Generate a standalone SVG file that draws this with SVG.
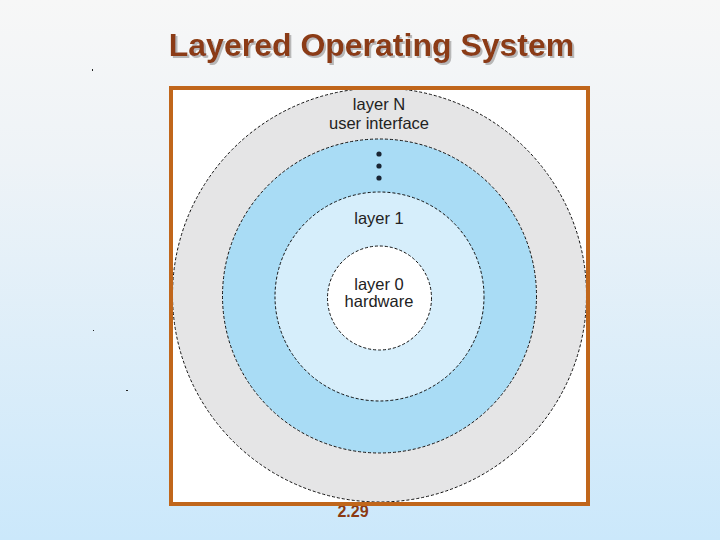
<svg xmlns="http://www.w3.org/2000/svg" width="720" height="540" viewBox="0 0 720 540">
<defs>
<linearGradient id="bg" x1="0" y1="0" x2="0" y2="1">
<stop offset="0" stop-color="#f7f7f7"/>
<stop offset="0.3" stop-color="#eef3f7"/>
<stop offset="1" stop-color="#cbe8fb"/>
</linearGradient>
<filter id="sh" x="-5%" y="-20%" width="110%" height="150%">
<feDropShadow dx="2" dy="2" stdDeviation="0.4" flood-color="#b8b8b8" flood-opacity="1"/>
</filter>
<style>
.ring{stroke:#111;stroke-width:1;stroke-dasharray:3 2}
.lbl{font-family:"Liberation Sans",Arial,sans-serif;font-size:16.5px;fill:#222;text-anchor:middle}
.title{font-family:"Liberation Sans",Arial,sans-serif;font-size:32px;font-weight:bold;text-anchor:middle}
</style>
</defs>
<rect width="720" height="540" fill="url(#bg)"/>
<g id="title">
<text class="title" x="371.5" y="56" fill="#8b3a12" filter="url(#sh)">Layered Operating System</text>
</g>
<text x="353" y="517" font-family="Liberation Sans,Arial,sans-serif" font-size="16" font-weight="bold" fill="#8b3a12" text-anchor="middle">2.29</text>
<rect x="171" y="88" width="417" height="416" fill="#ffffff"/>
<g id="layerN">
<circle class="ring" cx="379.5" cy="295" r="207" fill="#e5e5e6"/>
<text class="lbl" x="379" y="110">layer N</text>
<text class="lbl" x="379" y="129">user interface</text>
</g>
<g id="layerMid">
<circle class="ring" cx="379.5" cy="296" r="157" fill="#a9dcf5"/>
<circle cx="379" cy="154" r="2.6" fill="#1a2533"/>
<circle cx="379" cy="166" r="2.6" fill="#1a2533"/>
<circle cx="379" cy="178" r="2.6" fill="#1a2533"/>
</g>
<g id="layer1">
<circle class="ring" cx="379.5" cy="296.5" r="104.5" fill="#d6eefb"/>
<text class="lbl" x="379" y="224">layer 1</text>
</g>
<g id="layer0">
<circle class="ring" cx="379.5" cy="298" r="52" fill="#ffffff"/>
<text class="lbl" x="379" y="290">layer 0</text>
<text class="lbl" x="379" y="307">hardware</text>
</g>
<rect x="171" y="88" width="417" height="416" fill="none" stroke="#c0661b" stroke-width="4"/>
<g id="specks" fill="#222">
<rect x="92" y="69" width="1" height="2"/>
<rect x="93" y="330" width="1" height="1"/>
<rect x="126" y="390" width="2" height="1"/>
</g>
</svg>
